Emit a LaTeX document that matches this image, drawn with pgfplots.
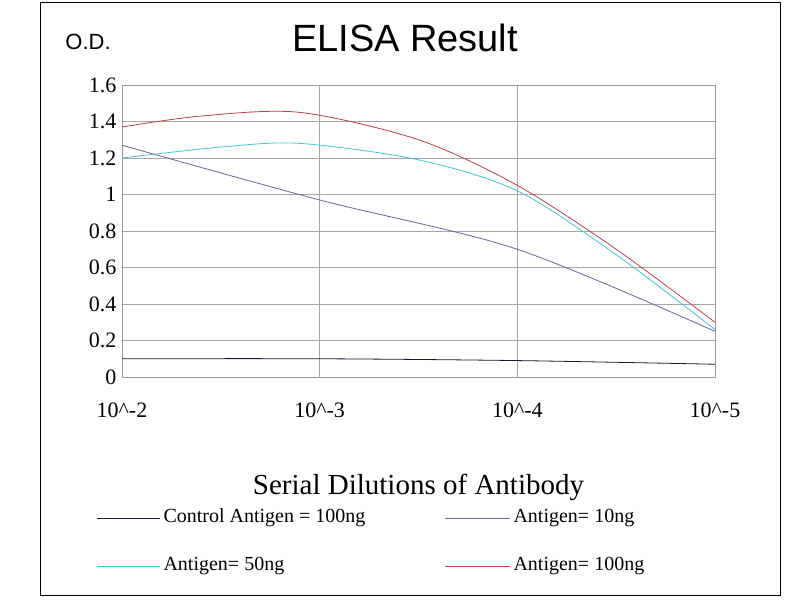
\documentclass[border=0pt]{standalone}
\usepackage{pgfplots}
\pgfplotsset{compat=1.18}
\usepackage{fontspec}
\setmainfont{Liberation Serif}
\newfontfamily\sans{Liberation Sans}
\definecolor{cctrl}{HTML}{1A1A2E}
\definecolor{c10}{HTML}{7A5CA0}
\definecolor{c50}{HTML}{45C4D6}
\definecolor{c100}{HTML}{C0404A}
\begin{document}
\begin{tikzpicture}[x=1pt,y=1pt]
\fill[white] (0,0) rectangle (800,-600);
\draw[black,line width=1pt] (40,-2) rectangle (780,-595);
\node[font=\sans\fontsize{38}{40}\selectfont] at (405,-38) {ELISA Result};
\node[font=\sans\fontsize{22}{24}\selectfont] at (88,-42) {O.D.};
\begin{axis}[at={(122pt,-377pt)},anchor=south west,scale only axis,
  width=593pt,height=292pt,xmin=0,xmax=3,ymin=0,ymax=1.6,
  xtick={0,1,2,3},xticklabels={10\textasciicircum-2,10\textasciicircum-3,10\textasciicircum-4,10\textasciicircum-5},
  ytick={0,0.2,...,1.6},yticklabels={0,0.2,0.4,0.6,0.8,1,1.2,1.4,1.6},
  grid=major,major grid style={gray!70},axis line style={gray!80},
  tick style={draw=none},
  ticklabel style={font=\fontsize{22}{24}\selectfont},
  yticklabel style={xshift=-2pt},
  xticklabel style={yshift=-22pt},
  xlabel={Serial Dilutions of Antibody},
  xlabel style={font=\fontsize{29}{31}\selectfont,yshift=-50pt},
  clip=false]
\addplot[cctrl,thick,smooth] coordinates {(0,0.1)(1,0.1)(2,0.09)(3,0.07)};
\addplot[c10,thick,smooth] coordinates {(0,1.27)(1,0.97)(2,0.7)(3,0.25)};
\addplot[c50,thick,smooth] coordinates {(0,1.2)(0.5,1.26)(0.9,1.28)(1.5,1.19)(2,1.02)(2.5,0.67)(3,0.26)};
\addplot[c100,thick,smooth] coordinates {(0,1.37)(0.4,1.43)(0.9,1.45)(1.5,1.3)(2,1.05)(2.5,0.7)(3,0.3)};
\end{axis}
\begin{scope}[font=\fontsize{20}{22}\selectfont]
\draw[cctrl,thick] (97,-518)--(160,-518); \node[anchor=west] at (160,-518) {Control Antigen = 100ng};
\draw[c10,thick] (445,-518)--(510,-518); \node[anchor=west] at (510,-518) {Antigen= 10ng};
\draw[c50,thick] (97,-566)--(160,-566); \node[anchor=west] at (160,-566) {Antigen= 50ng};
\draw[c100,thick] (445,-566)--(510,-566); \node[anchor=west] at (510,-566) {Antigen= 100ng};
\end{scope}
\end{tikzpicture}
\end{document}
